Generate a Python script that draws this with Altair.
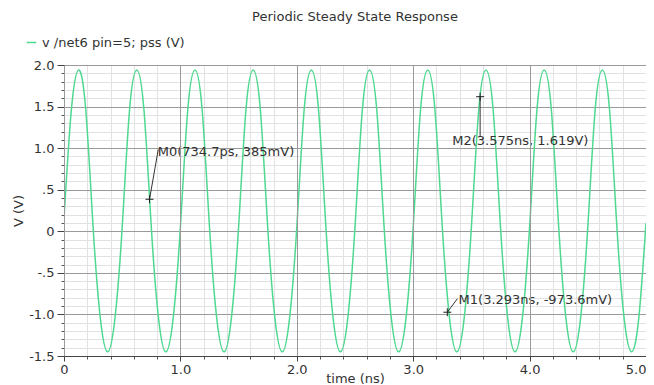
import altair as alt
import pandas as pd

FONT = "DejaVu Sans"
GREEN = "#4fd890"
TEXT = "#333333"

chart_title = "Periodic Steady State Response"
series_name = "v /net6 pin=5; pss (V)"
x_title = "time (ns)"
y_title = "V (V)"

# waveform samples (ns, V)
time_ns = [
    0.0, 0.0625, 0.125, 0.1875, 0.25, 0.3125, 0.375, 0.4375,
    0.5, 0.5625, 0.625, 0.6875, 0.75, 0.8125, 0.875, 0.9375,
    1.0, 1.0625, 1.125, 1.1875, 1.25, 1.3125, 1.375, 1.4375,
    1.5, 1.5625, 1.625, 1.6875, 1.75, 1.8125, 1.875, 1.9375,
    2.0, 2.0625, 2.125, 2.1875, 2.25, 2.3125, 2.375, 2.4375,
    2.5, 2.5625, 2.625, 2.6875, 2.75, 2.8125, 2.875, 2.9375,
    3.0, 3.0625, 3.125, 3.1875, 3.25, 3.3125, 3.375, 3.4375,
    3.5, 3.5625, 3.625, 3.6875, 3.75, 3.8125, 3.875, 3.9375,
    4.0, 4.0625, 4.125, 4.1875, 4.25, 4.3125, 4.375, 4.4375,
    4.5, 4.5625, 4.625, 4.6875, 4.75, 4.8125, 4.875, 4.9375,
    5.0,
]
volts = [
    0.15, 1.45, 1.94, 1.45, 0.05, -1.05, -1.45, -1.05,
    0.05, 1.45, 1.94, 1.45, 0.05, -1.05, -1.45, -1.05,
    0.05, 1.45, 1.94, 1.45, 0.05, -1.05, -1.45, -1.05,
    0.05, 1.45, 1.94, 1.45, 0.05, -1.05, -1.45, -1.05,
    0.05, 1.45, 1.94, 1.45, 0.05, -1.05, -1.45, -1.05,
    0.05, 1.45, 1.94, 1.45, 0.05, -1.05, -1.45, -1.05,
    0.05, 1.45, 1.94, 1.45, 0.05, -1.05, -1.45, -1.05,
    0.05, 1.45, 1.94, 1.45, 0.05, -1.05, -1.45, -1.05,
    0.05, 1.45, 1.94, 1.45, 0.05, -1.05, -1.45, -1.05,
    0.05, 1.45, 1.94, 1.45, 0.05, -1.05, -1.45, -1.05,
    0.1,
]

# markers
marker_t = [0.7347, 3.293, 3.575]
marker_v = [0.385, -0.9736, 1.619]
marker_text = ["M0(734.7ps, 385mV)", "M1(3.293ns, -973.6mV)", "M2(3.575ns, 1.619V)"]
leader_t = [0.81, 3.38, 3.575]
leader_v = [0.985, -0.81, 1.14]
label_t = [0.805, 3.39, 3.335]
label_v = [0.95, -0.83, 1.08]

x_major = [0, 1, 2, 3, 4, 5]
y_major = [-1.5, -1.0, -0.5, 0.0, 0.5, 1.0, 1.5, 2.0]
x_minor = [round(i * 0.2, 1) for i in range(26) if i % 5 != 0]
y_minor = [round(-1.5 + i * 0.1, 1) for i in range(36) if i % 5 != 0]

wave = pd.DataFrame({"t": time_ns, "v": volts, "series": [series_name] * len(time_ns)})
marks = pd.DataFrame({
    "t": marker_t, "v": marker_v, "lt": leader_t, "lv": leader_v,
    "tt": label_t, "tv": label_v, "txt": marker_text,
})

x_scale = alt.Scale(domain=[0, 5], nice=False, zero=False)
y_scale = alt.Scale(domain=[-1.5, 2.0], nice=False, zero=False)

minor_x_axis = alt.Axis(values=x_minor, grid=True, gridColor="#e2e2e2", labels=False,
                        ticks=True, tickSize=3, tickColor="#555555", domain=False,
                        title=None, orient="bottom")
minor_y_axis = alt.Axis(values=y_minor, grid=True, gridColor="#e2e2e2", labels=False,
                        ticks=True, tickSize=3, tickColor="#555555", domain=False,
                        title=None, orient="left")

major_x_axis = alt.Axis(values=x_major, grid=True, gridColor="#9a9a9a", labelFlush=False,
                        labelExpr="datum.value == 0 ? '0' : format(datum.value, '.1f')",
                        labelAlign={"condition": {"test": "datum.value == 5", "value": "right"},
                                    "value": "center"},
                        labelFont=FONT, labelFontSize=13, labelColor=TEXT, labelPadding=2,
                        tickSize=5, tickColor="#444444", domainColor="#444444",
                        title=x_title, titleFont=FONT, titleFontSize=13,
                        titleFontWeight="normal", titleColor=TEXT, titlePadding=-4,
                        orient="bottom", zindex=1)
major_y_axis = alt.Axis(values=y_major, grid=True, gridColor="#9a9a9a", labelFlush=False,
                        labelExpr="replace(datum.value == 0 ? '0' : (abs(datum.value) < 1 ? replace(format(datum.value, '.1f'), '0.', '.') : format(datum.value, '.1f')), '\u2212', '-')",
                        labelFont=FONT, labelFontSize=13, labelColor=TEXT, labelPadding=3,
                        tickSize=7, tickColor="#444444", domainColor="#444444",
                        title=y_title, titleFont=FONT, titleFontSize=13,
                        titleFontWeight="normal", titleColor=TEXT, titlePadding=3,
                        orient="left")

minor_layer = alt.Chart(wave).mark_line(opacity=0).encode(
    x=alt.X("t:Q", scale=x_scale, axis=minor_x_axis),
    y=alt.Y("v:Q", scale=y_scale, axis=minor_y_axis),
)

line_layer = alt.Chart(wave).mark_line(strokeWidth=1.5, interpolate="natural", clip=True).encode(
    x=alt.X("t:Q", scale=x_scale, axis=major_x_axis),
    y=alt.Y("v:Q", scale=y_scale, axis=major_y_axis),
    color=alt.Color("series:N", scale=alt.Scale(range=[GREEN]),
                    legend=alt.Legend(title=None, orient="none", legendX=-39, legendY=-29,
                                      symbolType="stroke", symbolStrokeWidth=1.5,
                                      symbolSize=90, labelFont=FONT, labelFontSize=13,
                                      labelColor=TEXT, padding=0, labelOffset=4)),
)

leader_layer = alt.Chart(marks).mark_rule(color="#333333", strokeWidth=1).encode(
    x=alt.X("t:Q", scale=x_scale, axis=None),
    y=alt.Y("v:Q", scale=y_scale, axis=None),
    x2="lt:Q",
    y2="lv:Q",
)

point_layer = alt.Chart(marks).mark_point(shape="M-1,0L1,0M0,-1L0,1", size=64, filled=False,
                                          color="#222222", strokeWidth=1, opacity=1).encode(
    x=alt.X("t:Q", scale=x_scale, axis=None),
    y=alt.Y("v:Q", scale=y_scale, axis=None),
)

text_layer = alt.Chart(marks).mark_text(align="left", baseline="middle", font=FONT,
                                        fontSize=13, color=TEXT).encode(
    x=alt.X("tt:Q", scale=x_scale, axis=None),
    y=alt.Y("tv:Q", scale=y_scale, axis=None),
    text="txt:N",
)

chart = alt.layer(minor_layer, line_layer, leader_layer, point_layer, text_layer).resolve_axis(
    x="independent", y="independent"
).properties(
    width=582,
    height=291,
    autosize="none",
    padding={"left": 56, "top": 57, "right": 0, "bottom": 29},
    title=alt.TitleParams(text=chart_title, font=FONT, fontSize=13, fontWeight="normal",
                          color=TEXT, anchor="middle", offset=12),
    background="white",
).configure_view(stroke="#777777", strokeWidth=1)

chart.save("out.html", embed_options={"renderer": "svg", "actions": False})
